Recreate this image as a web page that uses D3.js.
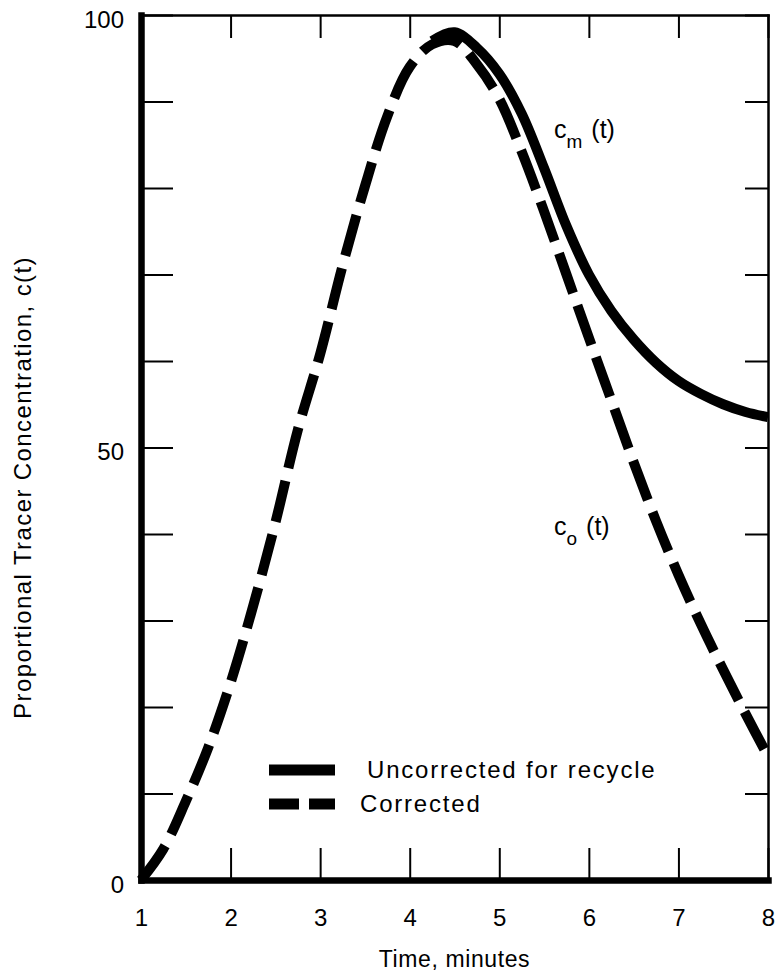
<!DOCTYPE html>
<html>
<head>
<meta charset="utf-8">
<script src="https://cdn.jsdelivr.net/npm/d3@7"></script>
<style>
  body { margin: 0; background: #fff; }
  svg { display: block; }
  text { font-family: "Liberation Sans", Arial, Helvetica, sans-serif; fill: #000; }
</style>
</head>
<body>
<div id="chart"></div>
<script>
// Tracer response curves, read at quarter-minute steps
const timeCorrected = [1, 1.25, 1.5, 1.75, 2, 2.25, 2.5, 2.75, 3, 3.25, 3.5, 3.75, 4, 4.25,
  4.5, 4.75, 5, 5.25, 5.5, 5.75, 6, 6.25, 6.5, 6.75, 7, 7.25, 7.5, 7.75, 8];
const corrected = [0, 3.6, 9.1, 15.3, 22.8, 31.6, 41.3, 52.0, 60.8, 71.0, 80.2, 88.3, 94.0, 96.6,
  97.0, 94.3, 90.3, 84.2, 77.3, 70.0, 62.7, 55.5, 48.3, 41.5, 35.3, 29.6, 24.3, 19.2, 14.3];

// the uncorrected curve only separates from the corrected one after the peak
const timeUncorrected = [4.25, 4.5, 4.75, 5, 5.25, 5.5, 5.75, 6, 6.25, 6.5, 6.75, 7, 7.25, 7.5, 7.75, 8];
const uncorrected = [97.0, 98.0, 96.2, 93.2, 88.6, 82.3, 75.6, 70.0, 65.8, 62.5, 59.8, 57.7, 56.2, 55.0, 54.1, 53.5];

const timeTicks = [1, 2, 3, 4, 5, 6, 7, 8];
const concTicks = [0, 10, 20, 30, 40, 50, 60, 70, 80, 90, 100];
const concLabels = [0, 50, 100];

const width = 776, height = 976;
const plot = { left: 141, right: 768, top: 15, bottom: 880 };

const svg = d3.select("#chart").append("svg")
    .attr("width", width)
    .attr("height", height);

const x = d3.scaleLinear().domain([1, 8]).range([plot.left, plot.right]);
const y = d3.scaleLinear().domain([0, 100]).range([plot.bottom, plot.top]);

// frame: heavy left and bottom axes, light top and right
function styleAxis(g, w) {
    g.select(".domain").attr("stroke", "#000").attr("stroke-width", w).attr("stroke-linecap", "square");
    g.selectAll(".tick line").attr("stroke", "#000").attr("stroke-width", 2);
    g.selectAll(".tick text").style("font-size", "24px");
}

svg.append("g")
    .attr("transform", `translate(0,${plot.top})`)
    .call(d3.axisTop(x).tickValues(timeTicks).tickSize(-23).tickSizeOuter(0).tickFormat(""))
    .call(g => styleAxis(g, 2.5));

svg.append("g")
    .attr("transform", `translate(${plot.right},0)`)
    .call(d3.axisRight(y).tickValues(concTicks).tickSize(-23).tickSizeOuter(0).tickFormat(""))
    .call(g => styleAxis(g, 2.5));

svg.append("g")
    .attr("transform", `translate(0,${plot.bottom})`)
    .call(d3.axisBottom(x).tickValues(timeTicks).tickSize(-32).tickSizeOuter(0).tickPadding(29)
        .tickFormat(d3.format("d")))
    .call(g => styleAxis(g, 6.5));

svg.append("g")
    .attr("transform", `translate(${plot.left},0)`)
    .call(d3.axisLeft(y).tickValues(concTicks).tickSize(-32).tickSizeOuter(0).tickPadding(17)
        .tickFormat(d => concLabels.includes(d) ? d : ""))
    .call(g => styleAxis(g, 6.5))
    .call(g => g.selectAll(".tick text").attr("dy", "0.5em"));

// axis titles
svg.append("text")
    .attr("x", (plot.left + plot.right) / 2)
    .attr("y", 967)
    .attr("text-anchor", "middle")
    .style("font-size", "23px")
    .style("letter-spacing", "0.6px")
    .text("Time, minutes");

svg.append("text")
    .attr("transform", `translate(31,${(plot.top + plot.bottom) / 2 + 40}) rotate(-90)`)
    .attr("text-anchor", "middle")
    .style("font-size", "24px")
    .style("letter-spacing", "1.4px")
    .text("Proportional Tracer Concentration, c(t)");

// curves
const line = d3.line()
    .x(d => x(d[0]))
    .y(d => y(d[1]))
    .curve(d3.curveCatmullRom);

svg.append("path")
    .datum(d3.zip(timeCorrected, corrected))
    .attr("fill", "none")
    .attr("stroke", "#000")
    .attr("stroke-width", 10)
    .attr("stroke-dasharray", "42,13")
    .attr("d", line);

svg.append("path")
    .datum(d3.zip(timeUncorrected, uncorrected))
    .attr("fill", "none")
    .attr("stroke", "#000")
    .attr("stroke-width", 10)
    .attr("d", line);

// curve labels c_m(t) and c_o(t)
function curveLabel(xPos, yPos, sub) {
    const t = svg.append("text")
        .attr("x", xPos)
        .attr("y", yPos)
        .style("font-size", "25px");
    t.append("tspan").text("c");
    t.append("tspan").attr("dy", 10).style("font-size", "19px").text(sub);
    t.append("tspan").attr("dy", -10).attr("dx", 9).text("(t)");
}
curveLabel(554, 138, "m");
curveLabel(554, 535, "o");

// legend
const legend = svg.append("g");
legend.append("line")
    .attr("x1", 269).attr("x2", 335)
    .attr("y1", 770).attr("y2", 770)
    .attr("stroke", "#000").attr("stroke-width", 11);
legend.append("line")
    .attr("x1", 269).attr("x2", 335)
    .attr("y1", 804).attr("y2", 804)
    .attr("stroke", "#000").attr("stroke-width", 11)
    .attr("stroke-dasharray", "30,10");
legend.append("text")
    .attr("x", 367).attr("y", 778)
    .style("font-size", "24px")
    .style("letter-spacing", "1.8px")
    .text("Uncorrected for recycle");
legend.append("text")
    .attr("x", 360).attr("y", 812)
    .style("font-size", "24px")
    .style("letter-spacing", "1.8px")
    .text("Corrected");
</script>
</body>
</html>
